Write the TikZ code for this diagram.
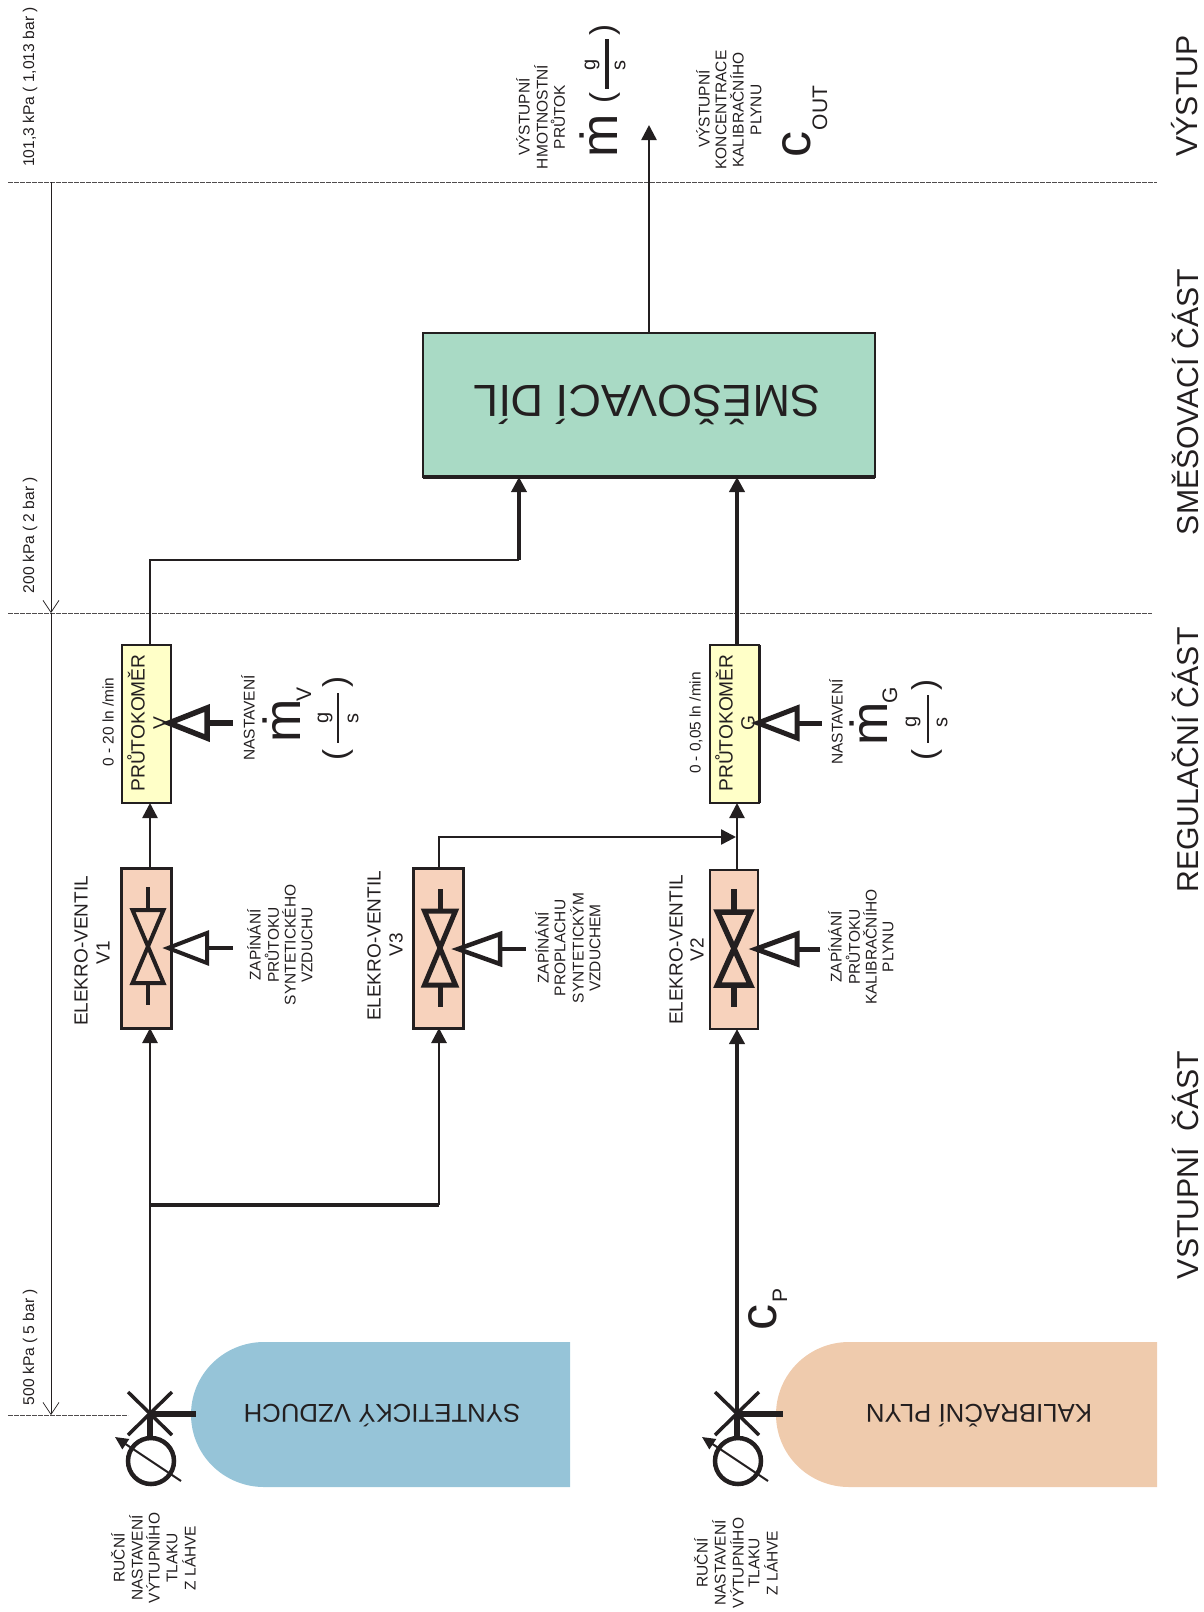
\documentclass[tikz,border=0pt]{standalone}
\usepackage{fontspec}
\setmainfont{Liberation Sans}
\usetikzlibrary{arrows.meta}
\definecolor{ink}{HTML}{231F20}
\definecolor{greenfill}{HTML}{A9DAC5}
\definecolor{yellowfill}{HTML}{FFFFC8}
\definecolor{valvefill}{HTML}{F7D2BC}
\definecolor{bluetank}{HTML}{96C4D8}
\definecolor{orangetank}{HTML}{EFCBAD}
\newcommand{\fs}[1]{\fontsize{#1}{#1}\selectfont}
\tikzset{
 x=1pt,y=-1pt,
 lab/.style={rotate=90,inner sep=0,outer sep=0,text=ink,font=\fs{15.5}},
 small/.style={lab,font=\fs{15.6}},
 rangetxt/.style={lab,font=\fs{15.4}},
 big/.style={lab,font=\fs{30.2}},
 eventil/.style={lab,font=\fs{19}},
 flowtxt/.style={lab,font=\fs{19.2}},
 flipped/.style={rotate=180,inner sep=0,outer sep=0,text=ink,anchor=base},
 mdot/.style={lab,font=\fs{52}},
 bigc/.style={lab,anchor=base,font=\fs{52}},
 sub/.style={lab,font=\fs{21}},
 frac/.style={lab,font=\fs{20}},
 paren/.style={lab,font=\fs{33}},
 pipe/.style={draw=ink,line width=#1,-{Triangle[length=15pt,width=15pt]}},
 pipe/.default=3pt,
 plain/.style={draw=ink,line width=#1},
 plain/.default=3pt,
 dashline/.style={draw=ink!80,line width=1pt,dash pattern=on 5pt off 1pt},
 dim/.style={draw=ink,line width=0.7pt,-{Straight Barb[length=12pt,width=16pt,line width=0.7pt]}},
 tri/.style={draw=ink,line width=#1,line join=miter,fill=none},
 vbox/.style={draw=ink,fill=valvefill,inner sep=0,outer sep=0},
 fbox/.style={draw=ink,fill=yellowfill,inner sep=0,outer sep=0},
}
\begin{document}
\begin{tikzpicture}
\useasboundingbox (0,0) rectangle (1204,1612);
% coordinates
\coordinate (topL) at (8,182); \coordinate (topR) at (1157,182);
\coordinate (midL) at (8,613); \coordinate (midR) at (1152,613);
\coordinate (lowL) at (8,1415); \coordinate (lowR) at (128,1415);
\coordinate (dimT) at (51,182); \coordinate (dimM) at (51,613); \coordinate (dimB) at (51,1415);
\draw[dashline] (topL)--(topR);
\draw[dashline] (midL)--(midR);
\draw[dashline] (lowL)--(lowR);
\draw[dim] (dimT)--(dimM);
\draw[dim] (dimM)--(dimB);
% tanks
\fill[bluetank] (570,1342) -- (264,1342) .. controls (224,1342) and (191,1374) .. (191,1414.5) .. controls (191,1455) and (224,1487) .. (264,1487) -- (570,1487) -- cycle;
\fill[orangetank] (1157,1342) -- (849,1342) .. controls (809,1342) and (776,1374) .. (776,1414.5) .. controls (776,1455) and (809,1487) .. (849,1487) -- (1157,1487) -- cycle;
\node[flipped,font=\fs{25.8}] (tankA) at (382,1404) {SYNTETICKÝ VZDUCH};
\node[flipped,font=\fs{25.8}] (tankB) at (979,1404) {KALIBRAČNÍ PLYN};
% mixer
\node[draw=ink,line width=2pt,fill=greenfill,minimum width=452pt,minimum height=144pt,inner sep=0,outer sep=0,anchor=north west] (mix) at (423,333) {};
\draw[ink,line width=3.5pt] (423,477)--(875,477);
\node[flipped,font=\fs{45}] (mixt) at (647,385) {SMĚŠOVACÍ DÍL};
% boxes
\node[fbox,line width=1.5pt,minimum width=49pt,minimum height=158pt,anchor=north west] (fV) at (122,645) {};
\node[fbox,line width=1.5pt,minimum width=49pt,minimum height=158pt,anchor=north west] (fG) at (710,645) {};
\draw[ink,line width=3pt] (759,645)--(759,803);
\node[vbox,line width=3pt,minimum width=50pt,minimum height=160pt,anchor=north west] (v1) at (121,868) {};
\node[vbox,line width=3pt,minimum width=50pt,minimum height=160pt,anchor=north west] (v3) at (413,868) {};
\node[vbox,line width=1.5pt,minimum width=48pt,minimum height=159pt,anchor=north west] (v2) at (710,870) {};
% junctions
\coordinate (xA) at (150,1414); \coordinate (xB) at (737,1414);
\coordinate (brA) at (150,1205); \coordinate (brB) at (439,1205);
\coordinate (t3) at (439,837);  \coordinate (t3e) at (736,837);
\coordinate (lp1) at (150,560); \coordinate (lp2) at (519,560);
% pipes
\draw[plain=2.8pt] (xA)--(brA);
\draw[pipe=2.8pt] (brA)--(v1.south -| brA);
\draw[plain=3.5pt] (brA)--(brB);
\draw[pipe=2.8pt] (brB)--(v3.south -| brB);
\draw[pipe=4pt] (xB)--(v2.south -| xB);
\draw[pipe=2.6pt] (v1.north -| xA)--(fV.south -| xA);
\draw[pipe=2.2pt] (v2.north -| xB)--(fG.south -| xB);
\draw[pipe=2.5pt] (v3.north -| t3)--(t3)--(t3e);
\draw[plain=2.5pt] (fV.north -| lp1)--(lp1)--(lp2);
\draw[pipe=3.5pt] (lp2)--(lp2 |- mix.south);
\draw[pipe=4pt] (fG.north -| xB)--(xB |- mix.south);
\draw[pipe=2.5pt] (mix.north -| 649,0)--(649,125);
% valve glyphs
\foreach \cx/\cy/\hw/\lw/\ya/\yb/\yc/\yd in {148/948/15.5/4/887/910/983/1005,440/948/15.5/5/889/911/985/1007,734/948/16.5/5.5/889/912/985/1007}{
 \draw[tri=\lw pt] (\cx-\hw,\yb) -- (\cx+\hw,\yb) -- (\cx-\hw,\yc) -- (\cx+\hw,\yc) -- cycle;
 \draw[ink,line width=\lw pt] (\cx,\ya)--(\cx,\yb) (\cx,\yc)--(\cx,\yd);
}
% control triangles
\foreach \tx/\bx/\ex/\cy/\lw in {168/207/233/948/4, 458/500/526/949/4.5, 756/797/820/949/5, 169/207/233/723/5.5, 758/797/822/723/5}{
 \draw[tri=\lw pt] (\tx,\cy)--(\bx,\cy-15)--(\bx,\cy+15)--cycle;
 \draw[ink,line width=\lw pt] (\bx,\cy)--(\ex,\cy);
}
% regulators
\foreach \cx in {150,737}{
 \draw[ink,line width=3.5pt] (\cx-22,1392)--(\cx+22,1435) (\cx+22,1392)--(\cx-22,1435);
 \draw[ink,line width=6pt] (\cx,1414)--(\cx+46,1414);
 \draw[ink,line width=6pt] (\cx,1414)--(\cx,1438);
 \draw[ink,line width=4.5pt] (\cx+1,1461) circle[radius=23];
 \draw[ink,line width=2pt,-{Triangle[length=13pt,width=12pt]}] (\cx+31,1481)--(\cx-35,1437);
}
% texts: rails
\node[small] (pa) at (30,87) {101,3 kPa ( 1,013 bar )};
\node[small] (pb) at (30,535) {200 kPa ( 2 bar )};
\node[small] (pc) at (30,1347) {500 kPa ( 5 bar )};
\node[big] (s1) at (1185,96) {VÝSTUP};
\node[big] (s2) at (1185,402) {SMĚŠOVACÍ ČÁST};
\node[big] (s3) at (1185,760) {REGULAČNÍ ČÁST};
\node[big] (s4) at (1185,1165) {VSTUPNÍ\ \ ČÁST};
% valve labels
\node[eventil] (e1a) at (81,951) {ELEKRO-VENTIL};
\node[eventil] (e1b) at (103,953) {V1};
\node[eventil] (e3a) at (374,946) {ELEKRO-VENTIL};
\node[eventil] (e3b) at (396,945) {V3};
\node[eventil] (e2a) at (676,950) {ELEKRO-VENTIL};
\node[eventil] (e2b) at (697,950) {V2};
\node[lab] (z1a) at (254,945) {ZAPÍNÁNÍ};
\node[lab] (z1b) at (272,945) {PRŮTOKU};
\node[lab] (z1c) at (289,945) {SYNTETICKÉHO};
\node[lab] (z1d) at (307,945) {VZDUCHU};
\node[lab] (z3a) at (542,948) {ZAPÍNÁNÍ};
\node[lab] (z3b) at (560,948) {PROPLACHU};
\node[lab] (z3c) at (577,948) {SYNTETICKÝM};
\node[lab] (z3d) at (595,948) {VZDUCHEM};
\node[lab] (z2a) at (835,947) {ZAPÍNÁNÍ};
\node[lab] (z2b) at (853,947) {PRŮTOKU};
\node[lab] (z2c) at (870,947) {KALIBRAČNÍHO};
\node[lab] (z2d) at (888,947) {PLYNU};
% flowmeter labels
\node[rangetxt] (rV) at (108,722) {0 - 20 ln /min};
\node[flowtxt] (fVa) at (136,723) {PRŮTOKOMĚR};
\node[flowtxt] (fVb) at (160,723) {V};
\node[rangetxt] (rG) at (696,723) {0 - 0,05 ln /min};
\node[flowtxt] (fGa) at (724,723) {PRŮTOKOMĚR};
\node[flowtxt] (fGb) at (748,723) {G};
\node[lab] (nV) at (248,718) {NASTAVENÍ};
\node[lab] (nG) at (836,722) {NASTAVENÍ};
% rates
\node[mdot,anchor=base] (mV) at (300,721) {ṁ};
\node[sub] (mVs) at (304,694) {V};
\node[frac] (gV) at (325,718) {g};
\node[frac] (sV) at (353,718) {s};
\draw[ink,line width=2pt] (338,693)--(338,743);
\node[paren] (pV1) at (338,755) {(};
\node[paren] (pV2) at (338,682) {)};
\node[mdot,anchor=base] (mG) at (887,724) {ṁ};
\node[sub] (mGs) at (890,695) {G};
\node[frac] (gG) at (913,722) {g};
\node[frac] (sG) at (942,722) {s};
\draw[ink,line width=2pt] (928,695)--(928,743);
\node[paren] (pG1) at (927,755) {(};
\node[paren] (pG2) at (927,685) {)};
% output labels
\node[lab] (o1) at (523,117) {VÝSTUPNÍ};
\node[lab] (o2) at (541,117) {HMOTNOSTNÍ};
\node[lab] (o3) at (558,117) {PRŮTOK};
\node[mdot,anchor=base] (mO) at (617,136) {ṁ};
\node[frac] (gO) at (592,65) {g};
\node[frac] (sO) at (620,65) {s};
\draw[ink,line width=4pt] (607,39)--(607,89);
\node[paren] (pO1) at (605,98) {(};
\node[paren] (pO2) at (605,30) {)};
\node[lab] (c1) at (703,109) {VÝSTUPNÍ};
\node[lab] (c2) at (721,110) {KONCENTRACE};
\node[lab] (c3) at (737,110) {KALIBRAČNÍHO};
\node[lab] (c4) at (756,110) {PLYNU};
\node[bigc] (cO) at (810,144) {c};
\node[sub] (cOs) at (820,108) {OUT};
\node[bigc] (cP) at (776,1317) {c};
\node[sub] (cPs) at (780,1295) {P};
% regulator labels
\node[lab] (ra) at (118,1558) {RUČNÍ};
\node[lab] (rb) at (136,1558) {NASTAVENÍ};
\node[lab] (rc) at (153,1558) {VÝTUPNÍHO};
\node[lab] (rd) at (172,1558) {TLAKU};
\node[lab] (re) at (189,1558) {Z LÁHVE};
\node[lab] (sa) at (701,1563) {RUČNÍ};
\node[lab] (sb) at (719,1563) {NASTAVENÍ};
\node[lab] (sc) at (737,1563) {VÝTUPNÍHO};
\node[lab] (sd) at (754,1563) {TLAKU};
\node[lab] (se) at (771,1563) {Z LÁHVE};
\end{tikzpicture}
\end{document}
